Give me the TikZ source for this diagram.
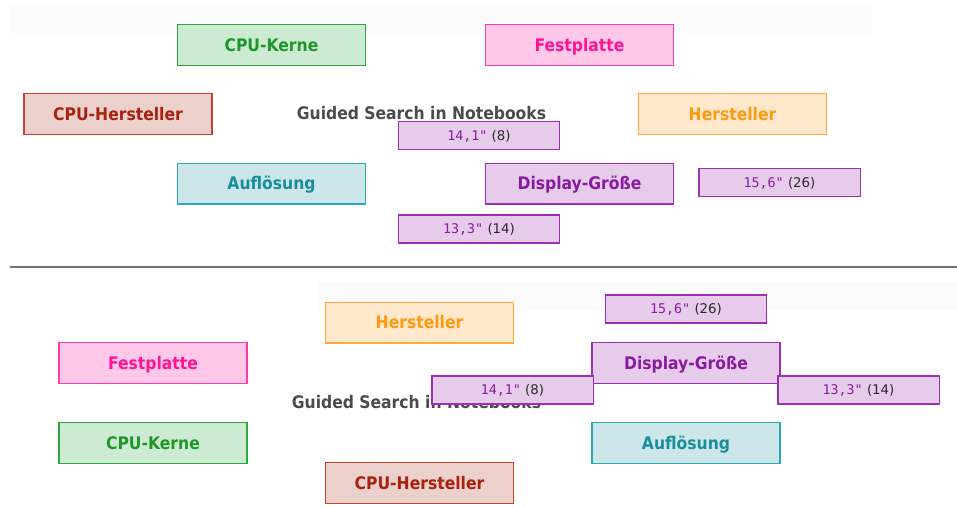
\documentclass[tikz,border=0pt]{standalone}
\usepackage{fontspec}
\setmainfont{DejaVu Sans}
\setmonofont{DejaVu Sans Mono}
\newfontfamily\catfont{DejaVu Sans Condensed Bold}
\usepackage{tikz}
\definecolor{kernF}{HTML}{CDEBD3}
\definecolor{kernD}{HTML}{2CA83C}
\definecolor{kernT}{HTML}{1E9628}
\definecolor{festF}{HTML}{FFC8E8}
\definecolor{festD}{HTML}{FF3CA8}
\definecolor{festT}{HTML}{FF1493}
\definecolor{cpuhF}{HTML}{ECD0CC}
\definecolor{cpuhD}{HTML}{C8402E}
\definecolor{cpuhT}{HTML}{A8220F}
\definecolor{hersF}{HTML}{FFE8CC}
\definecolor{hersD}{HTML}{FFAA38}
\definecolor{hersT}{HTML}{FF9A10}
\definecolor{auflF}{HTML}{CCE6EA}
\definecolor{auflD}{HTML}{2AAAB4}
\definecolor{auflT}{HTML}{1A8E9C}
\definecolor{dispF}{HTML}{E6CCEA}
\definecolor{dispD}{HTML}{9C30B4}
\definecolor{dispT}{HTML}{8A1AA0}
\definecolor{cntT}{HTML}{2A2A2A}
\definecolor{titleT}{HTML}{4B4B4B}
\newcommand{\sizeval}[2]{{\ttfamily\color{dispT}#1} {\color{cntT}(#2)}}

\begin{document}
\begin{tikzpicture}[x=0.75pt,y=-0.75pt,
    cat/.style={draw, line width=1pt, minimum width=141pt, minimum height=30.5pt,
      inner sep=0pt, text height=9.4pt, text depth=0pt,
      font=\catfont\fontsize{13}{15}\selectfont},
    val/.style={draw=dispD, fill=dispF, line width=1pt, minimum width=121pt,
      minimum height=21pt, inner sep=0pt, text height=7.3pt, text depth=0pt,
      font=\fontsize{10}{12}\selectfont},
    heading/.style={inner sep=0pt, text height=9.4pt, text depth=0pt, text=titleT,
      font=\catfont\fontsize{13}{15}\selectfont}]
  \useasboundingbox (0,0) rectangle (957,507);
  % upper layout
  \fill[black!1.5] (10,6) rectangle (872,33);
  \node (kern1) at (271.5,45) [cat, draw=kernD, fill=kernF, text=kernT] {CPU-Kerne};
  \node (fest1) at (579.5,45) [cat, draw=festD, fill=festF, text=festT] {Festplatte};
  \node (cpuh1) at (118,114) [cat, draw=cpuhD, fill=cpuhF, text=cpuhT] {CPU-Hersteller};
  \node (hers1) at (732.5,114) [cat, draw=hersD, fill=hersF, text=hersT] {Hersteller};
  \node (title1) at (421.5,113) [heading] {Guided Search in Notebooks};
  \node (aufl1) at (271.5,183.5) [cat, draw=auflD, fill=auflF, text=auflT] {Auflösung};
  \node (disp1) at (579.5,183.5) [cat, draw=dispD, fill=dispF, text=dispT] {Display-Größe};
  \node (v141a) at (479,135.5) [val] {\sizeval{14,1"}{8}};
  \node (v156a) at (779.5,182.5) [val] {\sizeval{15,6"}{26}};
  \node (v133a) at (479,229) [val] {\sizeval{13,3"}{14}};

  \draw[line width=1.1pt, black!55] (10,267) -- (957,267);

  % lower layout
  \fill[black!1.5] (319,282) rectangle (957,310);
  \node (hers2) at (419.5,322.5) [cat, draw=hersD, fill=hersF, text=hersT] {Hersteller};
  \node (fest2) at (153,363) [cat, draw=festD, fill=festF, text=festT] {Festplatte};
  \node (kern2) at (153,443) [cat, draw=kernD, fill=kernF, text=kernT] {CPU-Kerne};
  \node (cpuh2) at (419.5,483) [cat, draw=cpuhD, fill=cpuhF, text=cpuhT] {CPU-Hersteller};
  \node (title2) at (416.5,402) [heading] {Guided Search in Notebooks};
  \node (v156b) at (686,309) [val] {\sizeval{15,6"}{26}};
  \node (disp2) at (686,363) [cat, draw=dispD, fill=dispF, text=dispT] {Display-Größe};
  \node (aufl2) at (686,443) [cat, draw=auflD, fill=auflF, text=auflT] {Auflösung};
  \node (v141b) at (512.5,390) [val] {\sizeval{14,1"}{8}};
  \node (v133b) at (858.5,390) [val] {\sizeval{13,3"}{14}};
\end{tikzpicture}
\end{document}
